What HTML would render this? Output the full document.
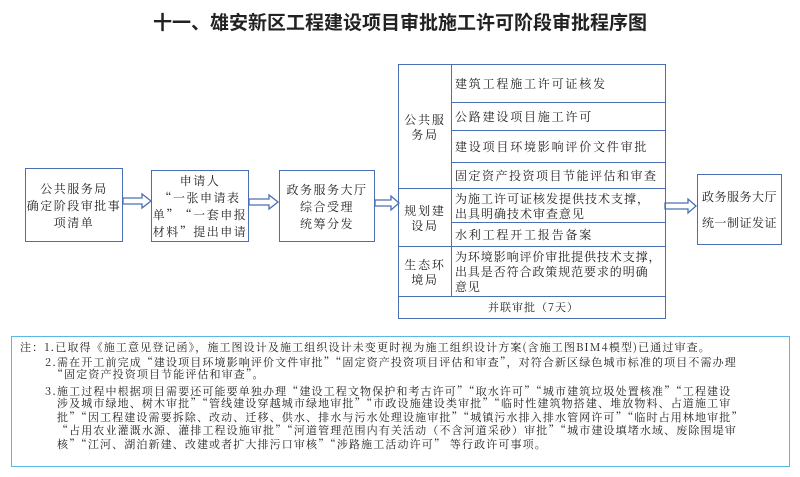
<!DOCTYPE html>
<html><head><meta charset="utf-8"><style>
body{margin:0;width:800px;height:477px;background:#fff;position:relative;overflow:hidden;font-family:"Liberation Sans","Noto Sans CJK SC",sans-serif;color:#222}
.a{position:absolute}
.box{position:absolute;border:1.5px solid #4a6fb5;box-sizing:border-box;display:flex;align-items:center;justify-content:center;text-align:center;font-size:12px;line-height:17px;letter-spacing:1.5px;font-family:"Noto Serif CJK SC","Noto Sans CJK SC",serif}
.cell{position:absolute;border:1px solid #4a6fb5;box-sizing:border-box;display:flex;align-items:center;font-size:12px;line-height:15px;letter-spacing:1.8px;padding-left:3px;font-family:"Noto Serif CJK SC","Noto Sans CJK SC",serif;white-space:nowrap;overflow:hidden}
.note{font-family:"Noto Serif CJK SC","Noto Sans CJK SC",serif;font-size:11px;letter-spacing:1.12px;white-space:nowrap;position:absolute;line-height:13px}
</style></head><body>
<div class="a" style="left:0;width:800px;top:8px;text-align:center;font-size:19px;font-weight:bold;letter-spacing:0px">十一、雄安新区工程建设项目审批施工许可阶段审批程序图</div>

<div class="box" style="left:25px;top:168px;width:98px;height:74px">公共服务局<br>确定阶段审批事<br>项清单</div>
<div class="box" style="left:151px;top:170px;width:98px;height:72px">申请人<br>“一张申请表<br>单”“一套申报<br>材料”提出申请</div>
<div class="box" style="left:279px;top:170px;width:96px;height:72px">政务服务大厅<br>综合受理<br>统筹分发</div>
<div class="box" style="left:697px;top:174px;width:85px;height:71px;line-height:26px;letter-spacing:0.5px">政务服务大厅<br>统一制证发证</div>

<svg class="a" style="left:0;top:0" width="800" height="477">
<g fill="#fff" stroke="#4a6fb5" stroke-width="1.3">
<path d="M123 198 H142 V194 L151 201 L142 208 V204 H123 Z"/>
<path d="M249 199 H269 V195 L278 202 L269 209 V205 H249 Z"/>
<path d="M375 200 H391 V196 L399 203 L391 210 V206 H375 Z"/>
<path d="M665 203 H688 V199 L696 206 L688 213 V209 H665 Z"/>
</g>
</svg>

<div class="cell" style="left:398px;top:64px;width:54px;height:125px;justify-content:center;text-align:center;padding:0">公共服<br>务局</div>
<div class="cell" style="left:398px;top:188px;width:54px;height:59px;justify-content:center;text-align:center;padding:0">规划建<br>设局</div>
<div class="cell" style="left:398px;top:246px;width:54px;height:51px;justify-content:center;text-align:center;padding:0">生态环<br>境局</div>
<div class="cell" style="left:451px;top:64px;width:215px;height:39px">建筑工程施工许可证核发</div>
<div class="cell" style="left:451px;top:102px;width:215px;height:29px">公路建设项目施工许可</div>
<div class="cell" style="left:451px;top:130px;width:215px;height:33px">建设项目环境影响评价文件审批</div>
<div class="cell" style="left:451px;top:162px;width:215px;height:27px;letter-spacing:1.5px">固定资产投资项目节能评估和审查</div>
<div class="cell" style="left:451px;top:188px;width:215px;height:35px;letter-spacing:1.0px">为施工许可证核发提供技术支撑，<br>出具明确技术审查意见</div>
<div class="cell" style="left:451px;top:222px;width:215px;height:25px">水利工程开工报告备案</div>
<div class="cell" style="left:451px;top:246px;width:215px;height:51px;letter-spacing:0.9px">为环境影响评价审批提供技术支撑，<br>出具是否符合政策规范要求的明确<br>意见</div>
<div class="cell" style="left:398px;top:296px;width:268px;height:23px;justify-content:center;font-size:11px;letter-spacing:1px">并联审批（7天）</div>

<div class="a" style="left:11px;top:336px;width:779px;height:131px;border:1.5px solid #5ab8e6;box-sizing:border-box"></div>
<div class="note" style="left:20px;top:341px">注：1.已取得《施工意见登记函》，施工图设计及施工组织设计未变更时视为施工组织设计方案(含施工图BIM4模型)已通过审查。</div>
<div class="note" style="left:45px;top:356px">2.需在开工前完成“建设项目环境影响评价文件审批”“固定资产投资项目评估和审查”，对符合新区绿色城市标准的项目不需办理</div>
<div class="note" style="left:52px;top:368px">“固定资产投资项目节能评估和审查”。</div>
<div class="note" style="left:45px;top:385px">3.施工过程中根据项目需要还可能要单独办理“建设工程文物保护和考古许可”“取水许可”“城市建筑垃圾处置核准”“工程建设</div>
<div class="note" style="left:57px;top:397px">涉及城市绿地、树木审批”“管线建设穿越城市绿地审批”“市政设施建设类审批”“临时性建筑物搭建、堆放物料、占道施工审</div>
<div class="note" style="left:57px;top:411px">批”“因工程建设需要拆除、改动、迁移、供水、排水与污水处理设施审批”“城镇污水排入排水管网许可”“临时占用林地审批”</div>
<div class="note" style="left:57px;top:424px">“占用农业灌溉水源、灌排工程设施审批”“河道管理范围内有关活动（不含河道采砂）审批”“城市建设填堵水域、废除围堤审</div>
<div class="note" style="left:57px;top:438px">核”“江河、湖泊新建、改建或者扩大排污口审核”“涉路施工活动许可” 等行政许可事项。</div>
</body></html>
